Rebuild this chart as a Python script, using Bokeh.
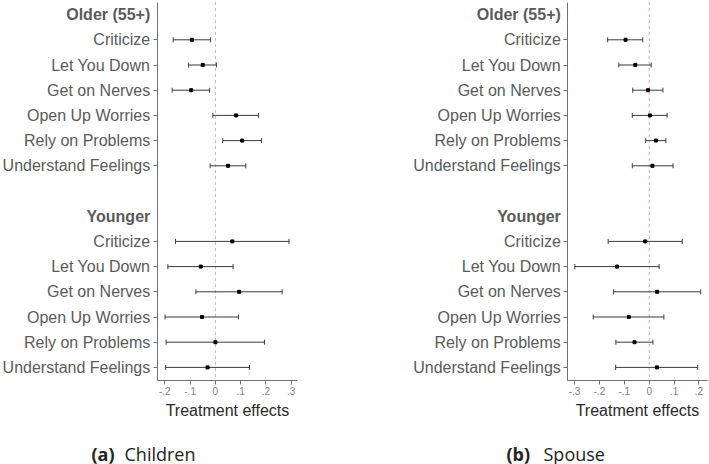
from bokeh.plotting import figure
from bokeh.models import Range1d, FixedTicker, Label
from bokeh.layouts import row
from bokeh.embed import file_html
from bokeh.resources import INLINE
import math

items = ["Criticize", "Let You Down", "Get on Nerves", "Open Up Worries",
         "Rely on Problems", "Understand Feelings"]
groups = ["Older (55+)", "Younger"]
x_ticks = [-0.3, -0.2, -0.1, 0.0, 0.1, 0.2, 0.3]
x_tick_labels = ["-.3", "-.2", "-.1", "0", ".1", ".2", ".3"]

# Children
children_older_est = [-0.093, -0.050, -0.096, 0.082, 0.106, 0.050]
children_older_lo = [-0.167, -0.106, -0.171, -0.010, 0.029, -0.021]
children_older_hi = [-0.019, 0.004, -0.023, 0.170, 0.182, 0.120]
children_younger_est = [0.067, -0.058, 0.094, -0.053, 0.000, -0.031]
children_younger_lo = [-0.158, -0.188, -0.077, -0.199, -0.195, -0.197]
children_younger_hi = [0.291, 0.070, 0.264, 0.091, 0.194, 0.135]

# Spouse
spouse_older_est = [-0.095, -0.056, -0.005, 0.003, 0.027, 0.013]
spouse_older_lo = [-0.167, -0.122, -0.066, -0.068, -0.014, -0.068]
spouse_older_hi = [-0.026, 0.008, 0.055, 0.072, 0.067, 0.096]
spouse_younger_est = [-0.016, -0.129, 0.032, -0.082, -0.059, 0.031]
spouse_younger_lo = [-0.165, -0.299, -0.143, -0.225, -0.134, -0.135]
spouse_younger_hi = [0.133, 0.040, 0.207, 0.059, 0.015, 0.195]

FONT = "Liberation Sans"
GREY = "#5a5a5a"
AXIS = "#707070"
BAR = "#3a3a3a"
H = 464

n = len(items)
older_title_row = 0
older_rows = [1 + i for i in range(n)]
younger_title_row = n + 2
younger_rows = [younger_title_row + 1 + i for i in range(n)]
n_rows = younger_rows[-1] + 1

# vertical layout (pixels): centre of first row, row pitch
ROW0_PX = 14.1
ROW_PX = 25.2


def panel(data_o, data_y, axis_bounds, zero_px, unit_px, ticks, width,
          cap_letter, cap_word, cap_letter_x, cap_word_x):
    x_start = -zero_px / unit_px
    x_end = (width - zero_px) / unit_px
    y_top = -ROW0_PX / ROW_PX
    y_bot = (H - ROW0_PX) / ROW_PX
    p = figure(width=width, height=H, output_backend="svg", toolbar_location=None,
               x_range=Range1d(x_start, x_end), y_range=Range1d(y_bot, y_top),
               min_border=0)
    p.outline_line_color = None
    p.xgrid.visible = False
    p.ygrid.visible = False
    p.background_fill_color = "white"
    p.border_fill_color = "white"

    p.segment(x0=[0], y0=[-0.5], x1=[0], y1=[n_rows - 0.5], line_color="#e8a3ad",
              line_dash="3 3", line_width=1)

    for (est, lo, hi), rows in ((data_o, older_rows), (data_y, younger_rows)):
        p.segment(x0=lo, y0=rows, x1=hi, y1=rows, line_color=BAR, line_width=1)
        p.scatter(x=lo, y=rows, marker="dash", angle=math.pi / 2, size=5,
                  line_color=BAR, line_width=1)
        p.scatter(x=hi, y=rows, marker="dash", angle=math.pi / 2, size=5,
                  line_color=BAR, line_width=1)
        p.scatter(x=est, y=rows, marker="square", size=3, fill_color="black",
                  line_color="black")

    # y axis
    ya = p.yaxis[0]
    ya.fixed_location = axis_bounds[0]
    ya.bounds = (-0.5, n_rows - 0.5)
    ya.ticker = FixedTicker(ticks=older_rows + younger_rows)
    ya.major_label_overrides = {r: items[i] for i, r in enumerate(older_rows)} | \
        {r: items[i] for i, r in enumerate(younger_rows)}
    ya.minor_tick_line_color = None
    ya.major_tick_in = 0
    ya.major_tick_out = 4
    ya.major_tick_line_color = AXIS
    ya.axis_line_color = AXIS
    ya.major_label_text_font = FONT
    ya.major_label_text_font_size = "16px"
    ya.major_label_text_color = GREY
    ya.major_label_standoff = 3

    # x axis
    xa = p.xaxis[0]
    xa.fixed_location = n_rows - 0.5
    xa.bounds = axis_bounds
    xa.ticker = FixedTicker(ticks=ticks)
    xa.major_label_overrides = {t: x_tick_labels[x_ticks.index(t)] for t in ticks}
    xa.minor_tick_line_color = None
    xa.major_tick_in = 0
    xa.major_tick_out = 4
    xa.major_tick_line_color = AXIS
    xa.axis_line_color = AXIS
    xa.major_label_text_font = FONT
    xa.major_label_text_font_size = "10px"
    xa.major_label_text_color = "#808080"
    xa.major_label_standoff = 3
    xa.axis_label = "Treatment effects"
    xa.axis_label_text_font = FONT
    xa.axis_label_text_font_size = "16px"
    xa.axis_label_text_font_style = "normal"
    xa.axis_label_text_color = "#2a2a2a"
    xa.axis_label_standoff = 3

    for r, g in ((older_title_row, groups[0]), (younger_title_row, groups[1])):
        p.add_layout(Label(x=axis_bounds[0], y=r, x_offset=-7, text=g,
                           text_align="right", text_baseline="middle",
                           text_font=FONT, text_font_size="16px",
                           text_font_style="bold", text_color=GREY))

    p.add_layout(Label(x=cap_letter_x, x_units="screen", y=11, y_units="screen",
                       text=cap_letter, text_align="left", text_baseline="middle",
                       text_font="Open Sans", text_font_size="18px",
                       text_font_style="bold", text_color="#222222"))
    p.add_layout(Label(x=cap_word_x, x_units="screen", y=11, y_units="screen",
                       text=cap_word, text_align="left", text_baseline="middle",
                       text_font="Open Sans", text_font_size="18px",
                       text_color="#222222"))
    return p


p1 = panel((children_older_est, children_older_lo, children_older_hi),
           (children_younger_est, children_younger_lo, children_younger_hi),
           (-0.23, 0.325), 214.9, 252.8, x_ticks[1:], 355,
           "(a)", "Children", 91, 124)
p2 = panel((spouse_older_est, spouse_older_lo, spouse_older_hi),
           (spouse_younger_est, spouse_younger_lo, spouse_younger_hi),
           (-0.327, 0.233), 293.7, 248.8, x_ticks[:-1], 354,
           "(b)", "Spouse", 151, 188)

layout = row(p1, p2)
open("out.html", "w").write(file_html(layout, INLINE))
